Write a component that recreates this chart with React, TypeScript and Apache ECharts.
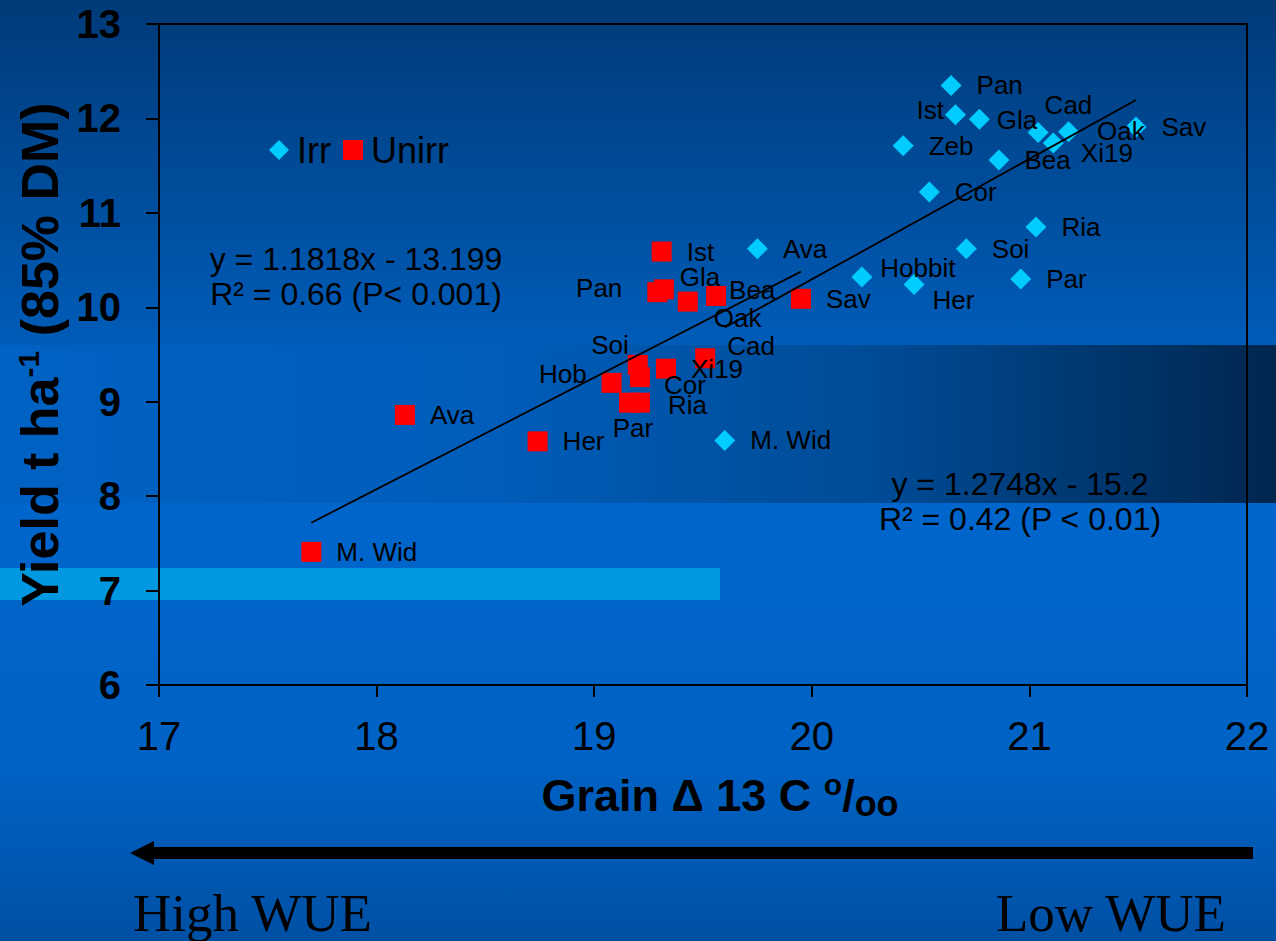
import React, { useEffect, useRef } from "react";
import * as echarts from "echarts";

// ---------- data ----------
const irrNames = ["Pan", "Ist", "Gla", "Cad", "Xi19", "Oak", "Sav", "Zeb", "Bea", "Cor", "Ria", "Soi", "Par", "Her", "Hobbit", "Ava", "M. Wid"];
const irrX = [20.64, 20.66, 20.77, 21.04, 21.11, 21.18, 21.49, 20.42, 20.86, 20.54, 21.03, 20.71, 20.96, 20.47, 20.23, 19.75, 19.6];
const irrY = [12.35, 12.04, 11.99, 11.85, 11.74, 11.86, 11.91, 11.71, 11.56, 11.22, 10.85, 10.62, 10.3, 10.24, 10.32, 10.62, 8.59];

const unirrNames = ["Ist", "Pan", "Gla", "Oak", "Bea", "Sav", "Cad", "Xi19", "Cor", "Soi", "Hob", "Par", "Ria", "Ava", "Her", "M. Wid"];
const unirrX = [19.31, 19.29, 19.32, 19.43, 19.56, 19.95, 19.51, 19.33, 19.21, 19.2, 19.08, 19.16, 19.21, 18.13, 18.74, 17.7];
const unirrY = [10.59, 10.16, 10.19, 10.06, 10.12, 10.09, 9.46, 9.35, 9.26, 9.39, 9.2, 8.99, 8.99, 8.86, 8.58, 7.41];

const irrFit = { slope: 1.2748, intercept: -15.2 };
const unirrFit = { slope: 1.1818, intercept: -13.199 };

const xTicks = { min: 17, max: 22, interval: 1 };
const yTicks = { min: 6, max: 13, interval: 1 };

const irrEquation = ["y = 1.2748x - 15.2", "R² = 0.42 (P < 0.01)"];
const unirrEquation = ["y = 1.1818x - 13.199", "R² = 0.66 (P< 0.001)"];

// ---------- label placement (layout only) ----------
type Place = { position?: string; offset?: number[]; distance?: number };
const irrPlace: Record<string, Place> = {
  Ist: { position: "left", offset: [0, -5], distance: 1 },
  Gla: { offset: [-8, 1] },
  Cad: { offset: [-19, -28] },
  Xi19: { offset: [2, 10] },
  Oak: { offset: [3, -1] },
  Her: { offset: [-7, 15] },
  Hobbit: { offset: [-7, -9] },
};
const unirrPlace: Record<string, Place> = {
  Pan: { position: "left", offset: [-10, -4] },
  Gla: { offset: [-9, -12] },
  Oak: { offset: [1, 16] },
  Bea: { offset: [-12, -6] },
  Cad: { offset: [-3, -12] },
  Cor: { offset: [-1, 8] },
  Soi: { position: "left", offset: [16, -20] },
  Hob: { position: "left", offset: [0, -9] },
  Par: { position: "bottom", offset: [4, 0], distance: 2 },
  Ria: { offset: [3, 2] },
};

const FONT = "'Liberation Sans', Arial, Helvetica, sans-serif";
const SERIF = "'Liberation Serif', 'Times New Roman', serif";

function buildPoints(names: string[], xs: number[], ys: number[], place: Record<string, Place>) {
  return names.map((n, i) => {
    const p = place[n] || {};
    return {
      name: n,
      value: [xs[i], ys[i]],
      label: {
        position: p.position || "right",
        offset: p.offset || [0, 0],
        distance: p.distance ?? 15,
      },
    };
  });
}

function fitLine(xs: number[], fit: { slope: number; intercept: number }) {
  const x0 = Math.min(...xs);
  const x1 = Math.max(...xs);
  return [
    [x0, fit.slope * x0 + fit.intercept],
    [x1, fit.slope * x1 + fit.intercept],
  ];
}

export default function App() {
  const ref = useRef<HTMLDivElement>(null);
  useEffect(() => {
    document.body.style.margin = "0";
    const chart = echarts.init(ref.current!, null, { renderer: "svg" });
    const labelStyle = { show: true, formatter: "{b}", color: "#000", fontSize: 26, fontFamily: FONT };
    const eqStyle = (t: string, x: number, y: number) => ({
      type: "text", z: 10, silent: true,
      style: { text: t, x, y, font: `32px ${FONT}`, fill: "#000", textAlign: "center", align: "center", textVerticalAlign: "middle", verticalAlign: "middle" },
    });
    const option: any = {
      animation: false,
      backgroundColor: "#0066cc",
      graphic: {
        elements: [
          {
            type: "rect", z: -10, silent: true,
            shape: { x: 0, y: 0, width: 1276, height: 345 },
            style: { fill: new echarts.graphic.LinearGradient(0, 0, 0, 1, [
              { offset: 0, color: "#003a78" }, { offset: 1, color: "#005cb8" }]) },
          },
          {
            type: "rect", z: -10, silent: true,
            shape: { x: 0, y: 345, width: 1276, height: 158 },
            style: { fill: new echarts.graphic.LinearGradient(0, 0, 1, 0, [
              { offset: 0, color: "#0062c4" }, { offset: 0.38, color: "#005dba" },
              { offset: 0.7, color: "#004a94" }, { offset: 1, color: "#00264e" }]) },
          },
          {
            type: "rect", z: -10, silent: true,
            shape: { x: 0, y: 503, width: 1276, height: 438 },
            style: { fill: new echarts.graphic.LinearGradient(0, 0, 0, 1, [
              { offset: 0, color: "#0066cc" }, { offset: 0.6, color: "#0062c4" }, { offset: 1, color: "#0050a4" }]) },
          },
          {
            type: "rect", z: -9, silent: true,
            shape: { x: 0, y: 568, width: 720, height: 32 },
            style: { fill: "#0098e0" },
          },
          // arrow
          {
            type: "rect", z: 10, silent: true,
            shape: { x: 150, y: 847, width: 1103, height: 12 },
            style: { fill: "#000" },
          },
          {
            type: "polygon", z: 10, silent: true,
            shape: { points: [[130, 853], [154, 841], [154, 865]] },
            style: { fill: "#000" },
          },
          {
            type: "text", z: 10, silent: true,
            style: { text: "High WUE", x: 133, y: 913, font: `53px ${SERIF}`, fill: "#000", textAlign: "left", align: "left", textVerticalAlign: "middle", verticalAlign: "middle" },
          },
          {
            type: "text", z: 10, silent: true,
            style: { text: "Low WUE", x: 1226, y: 913, font: `53px ${SERIF}`, fill: "#000", textAlign: "right", align: "right", textVerticalAlign: "middle", verticalAlign: "middle" },
          },
          // equations
          ...unirrEquation.map((t, i) => eqStyle(t, 356, 259 + i * 35)),
          ...irrEquation.map((t, i) => eqStyle(t, 1020, 484 + i * 35)),
        ],
      },
      legend: {
        data: ["Irr", "Unirr"],
        left: 264,
        top: 127,
        itemWidth: 20,
        itemHeight: 20,
        itemGap: 12,
        textStyle: { color: "#000", fontSize: 36, fontFamily: FONT, padding: [0, 0, 0, 3] },
      },
      grid: {
        left: 159, top: 24, width: 1088, height: 661,
        show: true, borderColor: "#000", borderWidth: 2, backgroundColor: "transparent",
      },
      xAxis: {
        type: "value",
        min: xTicks.min, max: xTicks.max, interval: xTicks.interval,
        axisLine: { lineStyle: { color: "#000", width: 2 } },
        axisTick: { show: true, inside: false, length: 12, lineStyle: { color: "#000", width: 2 } },
        splitLine: { show: false },
        axisLabel: { color: "#000", fontSize: 40, fontFamily: FONT, margin: 31 },
        name: "{b|Grain Δ 13 C }{sup|o}{b|/}{sub|oo}",
        nameLocation: "middle",
        nameGap: 84,
        nameTextStyle: {
          padding: [0, 0, 0, 34],
          rich: {
            b: { fontSize: 45, fontWeight: "bold", fontFamily: FONT, color: "#000" },
            sup: { fontSize: 30, fontWeight: "bold", fontFamily: FONT, color: "#000", verticalAlign: "top", padding: [0, 0, 8, 0] },
            sub: { fontSize: 36, fontWeight: "bold", fontFamily: FONT, color: "#000", verticalAlign: "bottom", padding: [16, 0, 0, 0] },
          },
        },
      },
      yAxis: {
        type: "value",
        min: yTicks.min, max: yTicks.max, interval: yTicks.interval,
        axisLine: { lineStyle: { color: "#000", width: 2 } },
        axisTick: { show: true, inside: false, length: 13, lineStyle: { color: "#000", width: 2 } },
        splitLine: { show: false },
        axisLabel: { color: "#000", fontSize: 40, fontWeight: "bold", fontFamily: FONT, margin: 38 },
        name: "{b|Yield t ha}{sup|-1}{b| (85% DM)}",
        nameLocation: "middle",
        nameGap: 92,
        nameRotate: 90,
        nameTextStyle: {
          rich: {
            b: { fontSize: 52, fontWeight: "bold", fontFamily: FONT, color: "#000" },
            sup: { fontSize: 30, fontWeight: "bold", fontFamily: FONT, color: "#000", verticalAlign: "top" },
          },
        },
      },
      series: [
        {
          name: "Irr", type: "scatter", symbol: "diamond", symbolSize: 21, z: 3,
          itemStyle: { color: "#00ccff", opacity: 1 },
          label: labelStyle,
          data: buildPoints(irrNames, irrX, irrY, irrPlace),
        },
        {
          name: "Unirr", type: "scatter", symbol: "rect", symbolSize: 20, z: 3,
          itemStyle: { color: "#ff0000", opacity: 1 },
          label: labelStyle,
          data: buildPoints(unirrNames, unirrX, unirrY, unirrPlace),
        },
        {
          name: "Irr fit", type: "line", symbol: "none", silent: true, z: 4,
          lineStyle: { color: "#000", width: 1.8 },
          data: fitLine(irrX, irrFit),
        },
        {
          name: "Unirr fit", type: "line", symbol: "none", silent: true, z: 4,
          lineStyle: { color: "#000", width: 1.8 },
          data: fitLine(unirrX, unirrFit),
        },
      ],
    };
    chart.setOption(option);
    return () => chart.dispose();
  }, []);
  return <div ref={ref} style={{ position: "absolute", left: 0, top: 0, width: 1276, height: 941 }} />;
}
